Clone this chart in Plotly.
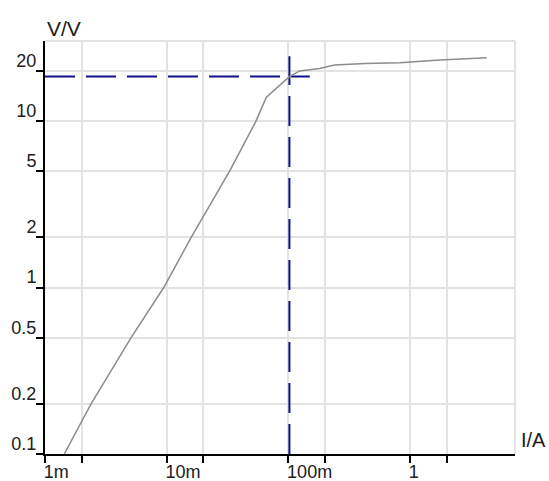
import plotly.graph_objects as go

# Curve data (I in A, V in V)
current = [0.00144, 0.00239, 0.0051, 0.00946, 0.0159, 0.0329, 0.0538, 0.066,
           0.102, 0.124, 0.181, 0.240, 0.425, 0.824, 1.76, 4.26]
voltage = [0.1, 0.2, 0.5, 1.0, 2.0, 5.0, 9.9, 13.9,
           18.5, 20.0, 20.7, 21.7, 22.2, 22.4, 23.3, 24.0]

# Crosshair marker
cross_i = 0.102
cross_v = 18.5
cross_h_x = [0.001, 0.15]
cross_v_y = [0.1, 24.5]

x_tickvals = [0.001, 0.002, 0.01, 0.02, 0.1, 0.2, 1, 2]
x_ticktext = ["1m", "", "10m", "", "100m", "", "1", ""]
y_tickvals = [0.1, 0.2, 0.5, 1, 2, 5, 10, 20]
y_ticktext = ["0.1", "0.2", "0.5", "1", "2", "5", "10", "20"]

FONT = "Liberation Sans"
navy = "#10108a"
grid = "#e3e3e3"

fig = go.Figure()
fig.add_trace(go.Scatter(x=cross_h_x, y=[cross_v, cross_v], mode="lines",
                         line=dict(color=navy, width=2, dash="30px,11px"),
                         hoverinfo="skip"))
fig.add_trace(go.Scatter(x=[cross_i, cross_i], y=cross_v_y, mode="lines",
                         line=dict(color=navy, width=2, dash="30px,11px"),
                         hoverinfo="skip"))
fig.add_trace(go.Scatter(x=current, y=voltage, mode="lines",
                         line=dict(color="#8c8c8c", width=1.5)))

fig.update_layout(
    width=549, height=481,
    margin=dict(l=45, r=34, t=41, b=27, autoexpand=False),
    paper_bgcolor="white", plot_bgcolor="white",
    showlegend=False,
    font=dict(family=FONT, size=18, color="#202020"),
    xaxis=dict(type="log", range=[-3, 0.8626], automargin=False,
               tickvals=x_tickvals, ticktext=x_ticktext,
               ticks="outside", ticklen=7, tickwidth=1.5, tickcolor="black",
               ticklabelposition="outside right", ticklabelshift=-3,
               showline=True, linecolor="black", linewidth=2,
               showgrid=True, gridcolor=grid, gridwidth=2,
               zeroline=False),
    yaxis=dict(type="log", range=[-1, 1.481], automargin=False,
               tickvals=y_tickvals, ticktext=y_ticktext,
               ticks="outside", ticklen=7, tickwidth=1.5, tickcolor="black",
               ticklabelposition="outside top", ticklabelstandoff=3,
               ticklabelshift=3,
               showline=True, linecolor="black", linewidth=2,
               showgrid=True, gridcolor=grid, gridwidth=2,
               zeroline=False),
    shapes=[
        dict(type="line", xref="paper", yref="paper", x0=0, x1=1, y0=1, y1=1,
             line=dict(color=grid, width=2), layer="below"),
        dict(type="line", xref="paper", yref="paper", x0=1, x1=1, y0=0, y1=1,
             line=dict(color=grid, width=2), layer="below"),
    ],
    annotations=[
        dict(text="V/V", xref="paper", yref="paper", x=0, y=1, xanchor="left",
             yanchor="middle", yshift=13, showarrow=False,
             font=dict(family=FONT, size=21, color="#202020")),
        dict(text="I/A", xref="paper", yref="paper", x=1, y=0, xanchor="left",
             yanchor="middle", xshift=4, yshift=14, showarrow=False,
             font=dict(family=FONT, size=20, color="#202020")),
    ],
)

fig.write_html(
    "out.html",
    config={"displayModeBar": False},
    post_script="document.body.style.margin='0';"
                "document.documentElement.style.overflow='hidden';",
)
